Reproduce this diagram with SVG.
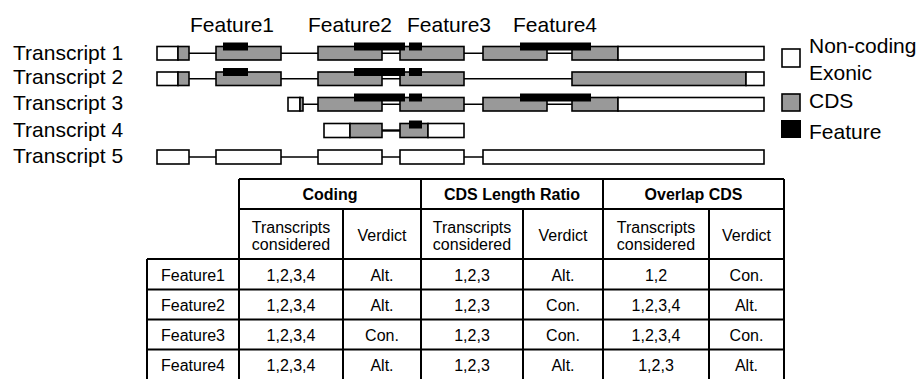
<svg xmlns="http://www.w3.org/2000/svg" width="921" height="379" viewBox="0 0 921 379">
<style>
text{font-family:"Liberation Sans",Arial,sans-serif;fill:#000}
.big{font-size:21px}
.tb{font-size:16px;text-anchor:middle}
.hb{font-size:16px;font-weight:bold;text-anchor:middle}
.w{fill:#fff;stroke:#000;stroke-width:1.6}
.g{fill:#999;stroke:#000;stroke-width:1.6}
.f{fill:#000}
.intron{stroke:#000;stroke-width:1.6;fill:none}
.grid{stroke:#000;stroke-width:2;fill:none}
</style>
<rect width="921" height="379" fill="#fff"/>

<g id="feature-labels">
<text class="big" x="190" y="32">Feature1</text>
<text class="big" x="308" y="32">Feature2</text>
<text class="big" x="407" y="32">Feature3</text>
<text class="big" x="513" y="32">Feature4</text>
</g>

<g id="transcript-labels">
<text class="big" x="13" y="60">Transcript 1</text>
<text class="big" x="13" y="84">Transcript 2</text>
<text class="big" x="13" y="110">Transcript 3</text>
<text class="big" x="13" y="137">Transcript 4</text>
<text class="big" x="13" y="163">Transcript 5</text>
</g>

<g id="connectors">
<path class="intron" d="M189 53.3H216M281 53.3H318M382 53.3H400M464 53.3H483M547 53.3H572"/>
<path class="intron" d="M189 78.8H216M281 78.8H318M382 78.8H400M464 78.8H572"/>
<path class="intron" d="M303 104.3H318M382 104.3H400M464 104.3H483M547 104.3H572"/>
<path class="intron" d="M382 130.5H400" style="stroke-width:2.4"/>
<path class="intron" d="M189 157H216M281 157H318M382 157H400M464 157H483"/>
</g>

<g id="transcript1">
<rect class="w" x="157" y="46.5" width="21" height="13.5"/>
<rect class="g" x="178" y="46.5" width="11" height="13.5"/>
<rect class="g" x="216" y="46.5" width="65" height="13.5"/>
<rect class="g" x="318" y="46.5" width="64" height="13.5"/>
<rect class="g" x="400" y="46.5" width="64" height="13.5"/>
<rect class="g" x="483" y="46.5" width="64" height="13.5"/>
<rect class="g" x="572" y="46.5" width="46" height="13.5"/>
<rect class="w" x="618" y="46.5" width="146" height="13.5"/>
<rect class="f" x="223" y="42.5" width="25" height="8"/>
<rect class="f" x="354" y="42.5" width="51" height="8"/>
<rect class="f" x="409" y="42.5" width="13" height="8"/>
<rect class="f" x="520" y="42.5" width="71" height="8"/>
</g>

<g id="transcript2">
<rect class="w" x="157" y="72" width="21" height="13.5"/>
<rect class="g" x="178" y="72" width="11" height="13.5"/>
<rect class="g" x="216" y="72" width="65" height="13.5"/>
<rect class="g" x="318" y="72" width="64" height="13.5"/>
<rect class="g" x="400" y="72" width="64" height="13.5"/>
<rect class="g" x="572" y="72" width="174" height="13.5"/>
<rect class="w" x="746" y="72" width="18" height="13.5"/>
<rect class="f" x="223" y="68" width="25" height="8"/>
<rect class="f" x="354" y="68" width="51" height="8"/>
<rect class="f" x="409" y="68" width="13" height="8"/>
</g>

<g id="transcript3">
<rect class="w" x="288" y="97.5" width="12" height="13.5"/>
<rect class="g" x="300" y="97.5" width="3" height="13.5"/>
<rect class="g" x="318" y="97.5" width="64" height="13.5"/>
<rect class="g" x="400" y="97.5" width="64" height="13.5"/>
<rect class="g" x="483" y="97.5" width="64" height="13.5"/>
<rect class="g" x="572" y="97.5" width="46" height="13.5"/>
<rect class="w" x="618" y="97.5" width="146" height="13.5"/>
<rect class="f" x="354" y="93.5" width="51" height="8"/>
<rect class="f" x="409" y="93.5" width="13" height="8"/>
<rect class="f" x="520" y="93.5" width="71" height="8"/>
</g>

<g id="transcript4">
<rect class="w" x="324" y="123.5" width="26" height="14"/>
<rect class="g" x="350" y="123.5" width="32" height="14"/>
<rect class="g" x="400" y="123.5" width="28" height="14"/>
<rect class="w" x="428" y="123.5" width="36" height="14"/>
<rect class="f" x="409" y="120.5" width="13" height="8"/>
</g>

<g id="transcript5">
<rect class="w" x="157" y="150" width="32" height="14"/>
<rect class="w" x="216" y="150" width="65" height="14"/>
<rect class="w" x="318" y="150" width="64" height="14"/>
<rect class="w" x="400" y="150" width="64" height="14"/>
<rect class="w" x="483" y="150" width="281" height="14"/>
</g>

<g id="legend">
<rect class="w" x="782" y="49" width="18" height="18"/>
<text class="big" x="809" y="53">Non-coding</text>
<text class="big" x="809" y="80">Exonic</text>
<rect class="g" x="782" y="94" width="18" height="17"/>
<text class="big" x="809" y="108">CDS</text>
<rect class="f" x="781" y="120" width="20" height="18"/>
<text class="big" x="809" y="139">Feature</text>
</g>

<g id="table">
<path class="grid" d="M239 179H784M239 209H784M147 259H784M147 289.5H784M147 319.5H784M147 349.5H784"/>
<path class="grid" d="M147 259V379M239 179V379M343 209V379M421 179V379M523 209V379M603 179V379M709 209V379M784 179V379"/>
<text class="hb" x="330" y="199.5">Coding</text>
<text class="hb" x="512" y="199.5">CDS Length Ratio</text>
<text class="hb" x="693.5" y="199.5">Overlap CDS</text>
<text class="tb" x="291" y="232.5">Transcripts</text>
<text class="tb" x="291" y="250">considered</text>
<text class="tb" x="382" y="241">Verdict</text>
<text class="tb" x="472" y="232.5">Transcripts</text>
<text class="tb" x="472" y="250">considered</text>
<text class="tb" x="563" y="241">Verdict</text>
<text class="tb" x="656" y="232.5">Transcripts</text>
<text class="tb" x="656" y="250">considered</text>
<text class="tb" x="746.5" y="241">Verdict</text>

<text class="tb" x="193" y="281">Feature1</text>
<text class="tb" x="291" y="281">1,2,3,4</text>
<text class="tb" x="382" y="281">Alt.</text>
<text class="tb" x="472" y="281">1,2,3</text>
<text class="tb" x="563" y="281">Alt.</text>
<text class="tb" x="656" y="281">1,2</text>
<text class="tb" x="746.5" y="281">Con.</text>

<text class="tb" x="193" y="311">Feature2</text>
<text class="tb" x="291" y="311">1,2,3,4</text>
<text class="tb" x="382" y="311">Alt.</text>
<text class="tb" x="472" y="311">1,2,3</text>
<text class="tb" x="563" y="311">Con.</text>
<text class="tb" x="656" y="311">1,2,3,4</text>
<text class="tb" x="746.5" y="311">Alt.</text>

<text class="tb" x="193" y="341">Feature3</text>
<text class="tb" x="291" y="341">1,2,3,4</text>
<text class="tb" x="382" y="341">Con.</text>
<text class="tb" x="472" y="341">1,2,3</text>
<text class="tb" x="563" y="341">Con.</text>
<text class="tb" x="656" y="341">1,2,3,4</text>
<text class="tb" x="746.5" y="341">Con.</text>

<text class="tb" x="193" y="371">Feature4</text>
<text class="tb" x="291" y="371">1,2,3,4</text>
<text class="tb" x="382" y="371">Alt.</text>
<text class="tb" x="472" y="371">1,2,3</text>
<text class="tb" x="563" y="371">Alt.</text>
<text class="tb" x="656" y="371">1,2,3</text>
<text class="tb" x="746.5" y="371">Alt.</text>
</g>
</svg>
